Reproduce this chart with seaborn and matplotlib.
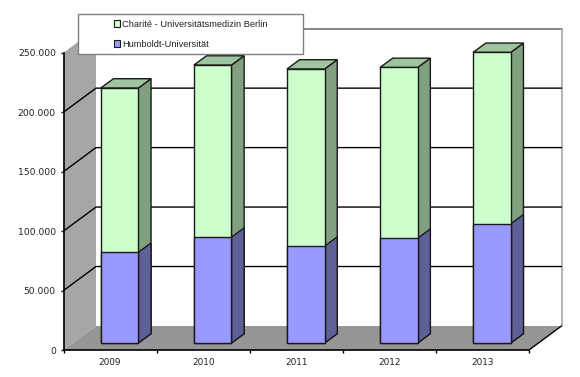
import pandas as pd
import matplotlib
matplotlib.use("Agg")
import matplotlib.pyplot as plt
import seaborn as sns
from matplotlib.patches import Polygon, Rectangle
from matplotlib.ticker import FuncFormatter

# Values
years = ["2009", "2010", "2011", "2012", "2013"]
humboldt = [76300, 89000, 81400, 88100, 100200]
charite = [138100, 144700, 149000, 143600, 144200]
y_ticks = [0, 50000, 100000, 150000, 200000, 250000]

# px per unit: 93.1 px per category, 59.4 px per 50.000
PX_X = 1 / 93.1
PX_Y = 50000 / 59.4

df = pd.DataFrame({"year": years, "humboldt": humboldt, "charite": charite})
df["total"] = df["humboldt"] + df["charite"]

sns.set_theme(style="white")
plt.rcParams["font.family"] = ["DejaVu Sans"]

fig = plt.figure(figsize=(5.8, 3.77), dpi=100)
ax = fig.add_axes([63.5 / 580, 1 - 350 / 377, (529 - 63.5) / 580, (350 - 52.7) / 377])

# Stacked bars: total first, lower series over it
bar_w = 37.6 * PX_X
sns.barplot(data=df, x="year", y="total", color="#CCFFCC", saturation=1, width=bar_w,
            edgecolor="#1a1a1a", linewidth=1, zorder=5, ax=ax)
n_green = len(ax.patches)
sns.barplot(data=df, x="year", y="humboldt", color="#9999FF", saturation=1, width=bar_w,
            edgecolor="#1a1a1a", linewidth=1, zorder=5, ax=ax)

ax.set_xlim(-0.5, 4.5)
ax.set_ylim(0, 250000)
ax.set_xlabel("")
ax.set_ylabel("")

# 3D look: wall depth and bar depth
wall_dx, wall_dy = 32.5 * PX_X, 24 * PX_Y
bar_dx, bar_dy = 12.7 * PX_X, 9.3 * PX_Y
shift_x, shift_y = 9.5 * PX_X, 7 * PX_Y

x0, x1 = -0.5, 4.5
top = y_ticks[-1]

def face(points, color, zorder=1, edge="none", lw=0.0):
    ax.add_patch(Polygon(points, closed=True, facecolor=color, edgecolor=edge, linewidth=lw,
                         zorder=zorder, clip_on=False))

# back wall, left wall, floor
face([(x0 + wall_dx, wall_dy), (x1 + wall_dx, wall_dy), (x1 + wall_dx, top + wall_dy), (x0 + wall_dx, top + wall_dy)],
     "white", 1)
ax.plot([x0 + wall_dx, x1 + wall_dx], [top + wall_dy] * 2, color="#707070", lw=1.2, zorder=2, clip_on=False)
ax.plot([x1 + wall_dx] * 2, [wall_dy, top + wall_dy], color="#a8a8a8", lw=1.2, zorder=2, clip_on=False)
face([(x0, 0), (x0 + wall_dx, wall_dy), (x0 + wall_dx, top + wall_dy), (x0, top)], "#A6A6A6", 1)
face([(x0, 0), (x1, 0), (x1 + wall_dx, wall_dy), (x0 + wall_dx, wall_dy)], "#969696", 1)
ax.plot([x1, x1 + wall_dx], [0, wall_dy], color="black", lw=1, zorder=2, clip_on=False)

# gridlines on both walls
for v in y_ticks[1:-1]:
    ax.plot([x0, x0 + wall_dx, x1 + wall_dx], [v, v + wall_dy, v + wall_dy], color="black", lw=1, zorder=2, clip_on=False)

# move bars onto the floor and add their side and top faces
green_bars = ax.patches[:n_green]
blue_bars = ax.patches[n_green:n_green + len(years)]
for bar in green_bars + blue_bars:
    bar.set_x(bar.get_x() + shift_x)
    bar.set_y(shift_y)
    bar.set_clip_on(False)

for bar, col_side in [(b, "#80A080") for b in green_bars] + [(b, "#606099") for b in blue_bars]:
    right = bar.get_x() + bar.get_width()
    y_top = bar.get_y() + bar.get_height()
    face([(right, shift_y), (right + bar_dx, shift_y + bar_dy), (right + bar_dx, y_top + bar_dy), (right, y_top)],
         col_side, 4, "#1a1a1a", 1)
for bar in green_bars:
    left = bar.get_x()
    right = left + bar.get_width()
    y_top = bar.get_y() + bar.get_height()
    face([(left, y_top), (right, y_top), (right + bar_dx, y_top + bar_dy), (left + bar_dx, y_top + bar_dy)],
         "#9FC59F", 4, "#1a1a1a", 1)

# axes and ticks
for name, spine in ax.spines.items():
    spine.set_visible(name in ("left", "bottom"))
    spine.set_color("black")
    spine.set_linewidth(1.2)
    spine.set_zorder(6)

ax.set_yticks(y_ticks)
ax.yaxis.set_major_formatter(FuncFormatter(lambda v, pos: f"{int(v):,}".replace(",", ".")))
ax.set_xticks([x0 + i for i in range(len(years) + 1)], labels=[""] * (len(years) + 1))
ax.set_xticks(range(len(years)), labels=years, minor=True)
ax.tick_params(axis="y", which="major", left=True, length=2.5, width=1, color="black", labelsize=6.7,
               labelcolor="#222222", pad=3)
ax.tick_params(axis="x", which="major", bottom=True, length=2, width=1, color="black")
ax.tick_params(axis="x", which="minor", bottom=False, length=0, labelsize=6.4, labelcolor="#222222", pad=5.5)

# legend box sits over the chart
fig.add_artist(Rectangle((77.5 / 580, 1 - 54 / 377), 225.5 / 580, 40.5 / 377, transform=fig.transFigure,
                         facecolor="white", edgecolor="#808080", linewidth=1, zorder=10))
handles = [Rectangle((0, 0), 1, 1, facecolor="#CCFFCC", edgecolor="#1a1a1a", linewidth=0.8),
           Rectangle((0, 0), 1, 1, facecolor="#9999FF", edgecolor="#1a1a1a", linewidth=0.8)]
leg = fig.legend(handles, ["Charité - Universitätsmedizin Berlin", "Humboldt-Universität"],
                 loc="upper left", bbox_to_anchor=(113.5 / 580, 1 - 20 / 377), frameon=False,
                 prop={"family": "Liberation Sans", "size": 6.7}, labelcolor="#222222",
                 handlelength=0.75, handleheight=0.75, handletextpad=0.15, labelspacing=1.15,
                 borderpad=0, borderaxespad=0)
leg.set_zorder(11)

plt.savefig("out.png", dpi=100)
